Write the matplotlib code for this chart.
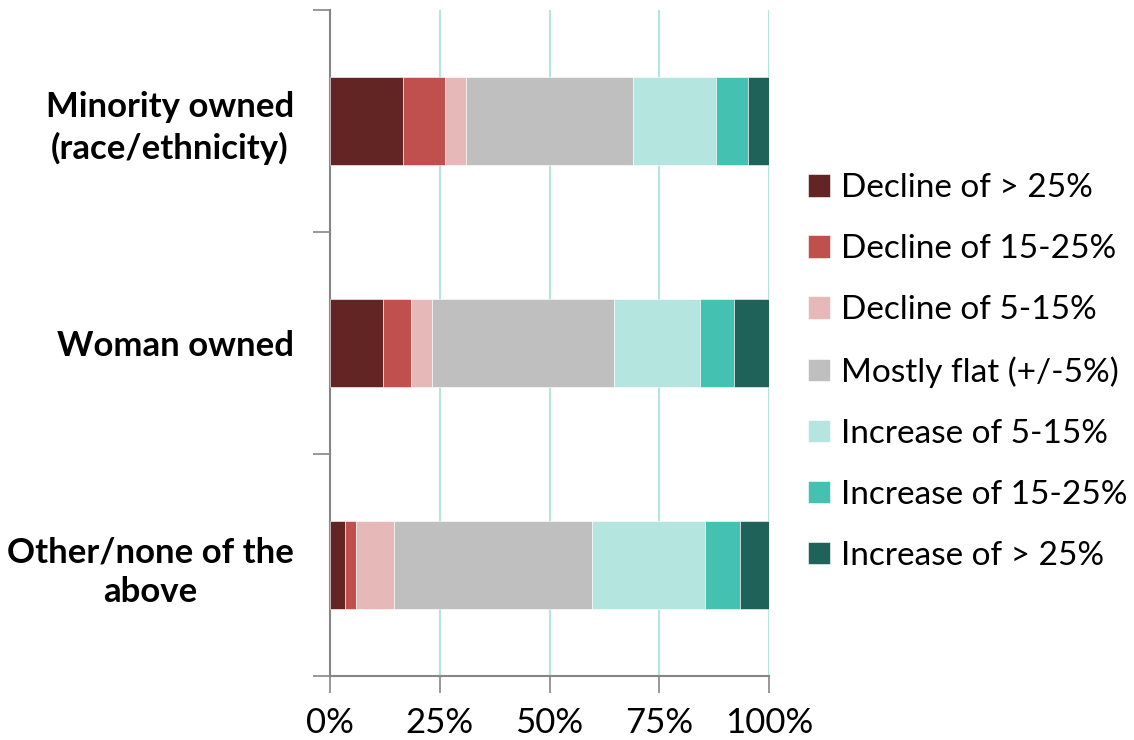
import matplotlib
matplotlib.use("Agg")
import matplotlib.pyplot as plt
from matplotlib.ticker import FixedLocator, PercentFormatter

plt.rcParams['font.family'] = ['Lato', 'DejaVu Sans']

categories = ["Minority owned\n(race/ethnicity)", "Woman owned", "Other/none of the\nabove"]
series_names = [
    "Decline of > 25%",
    "Decline of 15-25%",
    "Decline of 5-15%",
    "Mostly flat (+/-5%)",
    "Increase of 5-15%",
    "Increase of 15-25%",
    "Increase of > 25%",
]
# share of businesses (%) per category, one list per series
decline_over_25 = [16.6, 12.1, 3.4]
decline_15_25 = [9.6, 6.3, 2.6]
decline_5_15 = [4.8, 4.8, 8.6]
mostly_flat = [38.0, 41.4, 45.0]
increase_5_15 = [19.0, 19.7, 25.8]
increase_15_25 = [7.3, 7.7, 8.1]
increase_over_25 = [4.7, 8.0, 6.5]
series_values = [decline_over_25, decline_15_25, decline_5_15, mostly_flat,
                 increase_5_15, increase_15_25, increase_over_25]
colors = ["#632523", "#c0504d", "#e6b9b8", "#bfbfbf", "#b4e5df", "#45c1b2", "#1f6259"]
x_ticks = [0, 25, 50, 75, 100]

fig = plt.figure(figsize=(11.34, 7.4), dpi=100)
ax = fig.add_axes([330 / 1134, 1 - 676 / 740, 439 / 1134, 666 / 740])

ypos = [2, 1, 0]
left = [0.0] * len(categories)
for name, vals, col in zip(series_names, series_values, colors):
    ax.barh(ypos, vals, left=left, height=0.4, color=col, label=name,
            edgecolor="white", linewidth=0.4, zorder=3)
    left = [l + v for l, v in zip(left, vals)]

ax.set_xlim(0, 100)
ax.set_ylim(-0.5, 2.5)
ax.xaxis.set_major_locator(FixedLocator(x_ticks))
ax.xaxis.set_major_formatter(PercentFormatter(decimals=0))
ax.grid(axis="x", color="#b4e5df", linewidth=1.5, zorder=0)
ax.set_axisbelow(True)

ax.set_yticks(ypos)
ax.set_yticklabels(categories, fontsize=25, fontweight="bold", multialignment="center",
                   linespacing=1.3)
ax.yaxis.set_minor_locator(FixedLocator([-0.5, 0.5, 1.5, 2.5]))
ax.tick_params(axis="y", which="major", length=0, pad=26)
ax.tick_params(axis="y", which="minor", length=12, width=1.2, color="#868686", direction="out")
ax.tick_params(axis="x", length=12, width=1.2, color="#868686", direction="out",
               labelsize=25, pad=10)

for side in ("top", "right"):
    ax.spines[side].set_visible(False)
for side in ("left", "bottom"):
    ax.spines[side].set_color("#868686")
    ax.spines[side].set_linewidth(1.5)

ax.legend(loc="center left", bbox_to_anchor=(808 / 1134, 1 - 372 / 740),
          bbox_transform=fig.transFigure, frameon=False, fontsize=24,
          handlelength=0.66, handleheight=0.66, handletextpad=0.33,
          labelspacing=0.93, borderaxespad=0, borderpad=0)

fig.savefig("out.png", dpi=100)
